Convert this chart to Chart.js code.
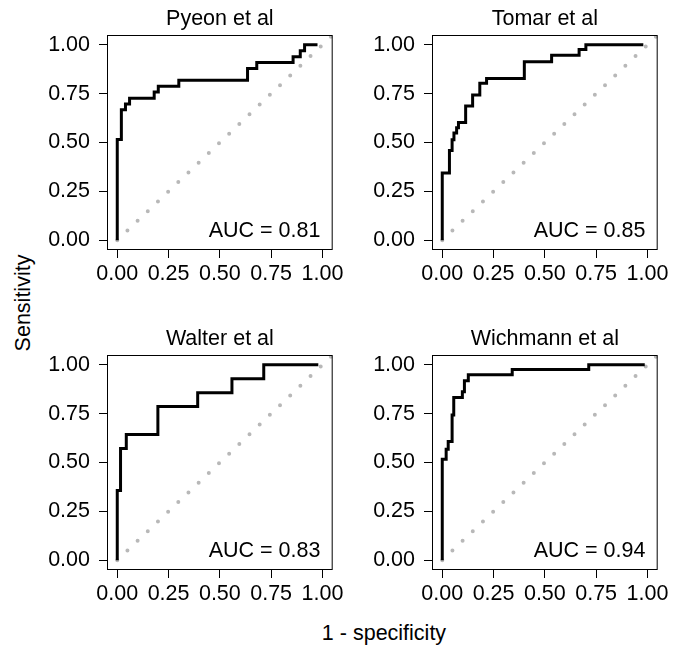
<!DOCTYPE html>
<html lang="en">
<head>
  <meta charset="UTF-8">
  <title>ROC curves</title>
  <script src="https://cdn.jsdelivr.net/npm/chart.js@4.4.1/dist/chart.umd.min.js"></script>
  <style>
    body { margin: 0; background: #fff; }
    #page { position: relative; width: 675px; height: 646px; overflow: hidden;
            font-family: "Liberation Sans", Arial, Helvetica, sans-serif; color: #000; }
    canvas { position: absolute; }
    .axis-title { position: absolute; font-size: 21.5px; line-height: 22px; text-align: center; white-space: nowrap; }
  </style>
</head>
<body>
  <div id="page">
    <div class="axis-title" style="left:-77px; top:291.5px; width:200px; transform:rotate(-90deg);">Sensitivity</div>
    <div class="axis-title" style="left:284px; top:621.5px; width:200px;">1 - specificity</div>
  </div>

  <script>
    // panel titles and AUC values
    var studies = ['Pyeon et al', 'Tomar et al', 'Walter et al', 'Wichmann et al'];
    var aucValues = [0.81, 0.85, 0.83, 0.94];
    var tickValues = [0, 0.25, 0.5, 0.75, 1];

    // ROC step vertices (1 - specificity, sensitivity)
    var pyeonFpr = [0, 0, 0.02, 0.04, 0.06, 0.18, 0.20, 0.30, 0.635, 0.68, 0.857, 0.892, 0.913, 0.976];
    var pyeonTpr = [0, 0.515, 0.667, 0.697, 0.727, 0.758, 0.788, 0.818, 0.879, 0.909, 0.939, 0.970, 1.0, 1.0];

    var tomarFpr = [0, 0, 0.035, 0.048, 0.057, 0.07, 0.079, 0.114, 0.148, 0.183, 0.216, 0.40, 0.533, 0.667, 0.70, 0.98];
    var tomarTpr = [0, 0.344, 0.459, 0.514, 0.548, 0.575, 0.602, 0.687, 0.743, 0.803, 0.828, 0.913, 0.947, 0.976, 1.0, 1.0];

    var walterFpr = [0, 0, 0.016, 0.044, 0.198, 0.392, 0.559, 0.714, 0.98];
    var walterTpr = [0, 0.357, 0.571, 0.643, 0.786, 0.857, 0.929, 1.0, 1.0];

    var wichmannFpr = [0, 0, 0.019, 0.029, 0.048, 0.056, 0.098, 0.108, 0.127, 0.341, 0.714, 0.987];
    var wichmannTpr = [0, 0.517, 0.568, 0.607, 0.743, 0.833, 0.862, 0.918, 0.949, 0.976, 1.0, 1.0];

    var fprs = [pyeonFpr, tomarFpr, walterFpr, wichmannFpr];
    var tprs = [pyeonTpr, tomarTpr, walterTpr, wichmannTpr];

    var FONT = '"Liberation Sans", Arial, Helvetica, sans-serif';
    var FS = 21.5;

    // turn step vertices into corner points: across first, then up
    function stepPoints(fpr, tpr) {
      var pts = [{ x: fpr[0], y: tpr[0] }];
      for (var i = 1; i < fpr.length; i++) {
        pts.push({ x: fpr[i], y: tpr[i - 1] });
        pts.push({ x: fpr[i], y: tpr[i] });
      }
      return pts;
    }

    // full rectangle round the panel + AUC label
    var panelExtras = {
      id: 'panelExtras',
      afterDraw: function(chart) {
        var a = chart.chartArea, ctx = chart.ctx;
        ctx.save();
        ctx.strokeStyle = '#000';
        ctx.lineWidth = 1;
        ctx.strokeRect(a.left + 0.5, a.top + 0.5, a.right - a.left - 1, a.bottom - a.top - 1);
        ctx.fillStyle = '#000';
        ctx.font = FS + 'px ' + FONT;
        ctx.textAlign = 'right';
        ctx.textBaseline = 'alphabetic';
        var auc = chart.options.plugins.panelExtras.auc;
        ctx.fillText('AUC = ' + auc.toFixed(2),
          chart.scales.x.getPixelForValue(0.99), chart.scales.y.getPixelForValue(0.018));
        ctx.restore();
      }
    };

    var boxLeft = [107, 432];
    var boxTop = [35, 355];
    var page = document.getElementById('page');

    studies.forEach(function(name, k) {
      var col = k % 2, row = Math.floor(k / 2);
      var cv = document.createElement('canvas');
      cv.width = 312; cv.height = 292;
      cv.style.left = (boxLeft[col] - 72) + 'px';
      cv.style.top = (boxTop[row] - 35) + 'px';
      page.appendChild(cv);

      new Chart(cv.getContext('2d'), {
        type: 'line',
        data: {
          datasets: [{
            data: stepPoints(fprs[k], tprs[k]),
            borderColor: '#000',
            borderWidth: 3,
            borderJoinStyle: 'miter',
            pointRadius: 0,
            tension: 0,
            fill: false
          }, {
            data: [{ x: 0, y: 0 }, { x: 1.05, y: 1.05 }],
            borderColor: '#B8B8B8',
            borderWidth: 4,
            borderDash: [0, 14.05],
            borderCapStyle: 'round',
            pointRadius: 0,
            fill: false,
            clip: 0
          }]
        },
        options: {
          responsive: false,
          animation: false,
          events: [],
          layout: { padding: { left: 0, right: 10, top: 0, bottom: 0 } },
          plugins: {
            legend: { display: false },
            tooltip: { enabled: false },
            title: {
              display: true,
              text: name,
              fullSize: false,
              color: '#000',
              font: { family: FONT, size: FS, weight: 'normal', lineHeight: 1.2 },
              padding: { top: 6, bottom: 3.2 }
            },
            panelExtras: { auc: aucValues[k] }
          },
          scales: {
            x: {
              type: 'linear',
              min: -0.05, max: 1.05,
              afterBuildTicks: function(s) { s.ticks = tickValues.map(function(v) { return { value: v }; }); },
              afterFit: function(s) { s.height = 42; },
              grid: { drawOnChartArea: false, drawTicks: true, tickLength: 8, color: '#000', lineWidth: 1 },
              border: { display: false },
              ticks: {
                color: '#000', padding: 3, maxRotation: 0,
                font: { family: FONT, size: FS },
                callback: function(v) { return v.toFixed(2); }
              }
            },
            y: {
              type: 'linear',
              min: -0.05, max: 1.05,
              afterBuildTicks: function(s) { s.ticks = tickValues.map(function(v) { return { value: v }; }); },
              afterFit: function(s) { s.width = 72; },
              grid: { drawOnChartArea: false, drawTicks: true, tickLength: 8, color: '#000', lineWidth: 1 },
              border: { display: false },
              ticks: {
                color: '#000', padding: 9,
                font: { family: FONT, size: FS },
                callback: function(v) { return v.toFixed(2); }
              }
            }
          }
        },
        plugins: [panelExtras]
      });
    });
  </script>
</body>
</html>
